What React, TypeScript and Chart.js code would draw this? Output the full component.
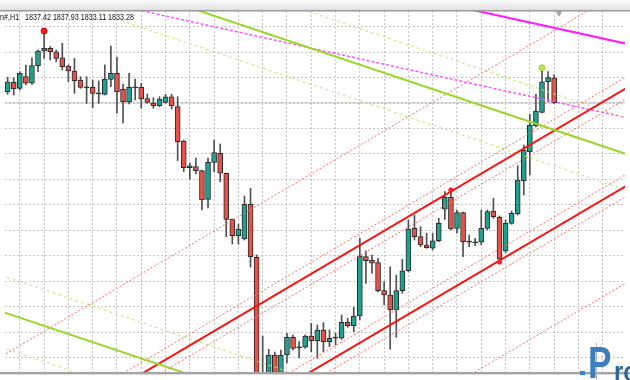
import React, { useEffect, useRef } from 'react';
import { Chart, registerables } from 'chart.js';

Chart.register(...registerables);

// ---- Candle data (H1 bars, oldest -> newest) ----
const OPEN = [
  1835.12, 1836.68, 1835.68, 1837.62, 1836.52, 1839.45, 1841.90, 1842.35, 1841.78, 1840.78,
  1839.40, 1838.57, 1837.07, 1835.85, 1835.85, 1834.85, 1834.68, 1837.18, 1838.18, 1835.52,
  1833.40, 1835.85, 1835.85, 1833.95, 1833.23, 1832.78, 1833.35, 1834.28, 1832.62, 1826.90,
  1822.45, 1822.62, 1821.95, 1817.18, 1823.35, 1824.85, 1821.52, 1813.90, 1811.12, 1810.57,
  1816.35, 1807.52, 1787.57, 1787.07, 1791.23, 1787.40, 1791.23, 1794.18, 1792.52, 1792.52,
  1794.40, 1793.62, 1795.40, 1793.45, 1794.12, 1794.02, 1796.68, 1796.12, 1797.73, 1807.62,
  1807.07, 1806.62, 1801.95, 1801.23, 1798.73, 1801.95, 1805.28, 1812.35, 1810.95, 1809.57,
  1809.02, 1810.28, 1815.52, 1817.52, 1812.35, 1814.95, 1810.12, 1810.02, 1810.02, 1812.35,
  1815.23, 1814.18, 1808.57, 1813.18, 1814.73, 1820.28, 1825.12, 1829.40, 1831.68, 1836.78,
  1837.42,
];
const HIGH = [
  1837.52, 1837.45, 1838.45, 1839.57, 1840.78, 1842.07, 1845.23, 1842.62, 1842.07, 1843.18,
  1839.57, 1840.68, 1837.62, 1837.62, 1837.07, 1836.90, 1839.57, 1842.73, 1840.85, 1836.40,
  1838.18, 1837.23, 1836.52, 1834.73, 1834.12, 1834.28, 1834.68, 1834.68, 1834.28, 1827.07,
  1823.23, 1824.07, 1822.07, 1824.07, 1827.07, 1826.40, 1821.57, 1813.90, 1813.07, 1817.73,
  1819.02, 1807.90, 1794.40, 1792.18, 1791.73, 1792.07, 1794.85, 1794.57, 1793.45, 1794.57,
  1796.52, 1796.23, 1796.62, 1795.40, 1794.85, 1797.90, 1797.35, 1799.18, 1810.68, 1808.57,
  1807.90, 1807.35, 1803.45, 1805.95, 1804.57, 1807.18, 1813.73, 1814.57, 1812.62, 1811.52,
  1811.52, 1814.02, 1818.45, 1818.73, 1815.40, 1815.07, 1811.23, 1810.68, 1815.40, 1815.40,
  1817.35, 1814.40, 1813.73, 1815.23, 1822.78, 1826.23, 1831.35, 1834.68, 1839.12, 1838.45,
  1837.93,
];
const LOW = [
  1834.68, 1834.57, 1835.40, 1836.23, 1836.35, 1838.45, 1840.68, 1840.40, 1840.12, 1838.73,
  1836.78, 1834.85, 1835.68, 1833.18, 1832.45, 1833.18, 1834.57, 1835.95, 1831.52, 1829.90,
  1833.07, 1833.73, 1832.35, 1833.18, 1832.35, 1832.62, 1833.18, 1832.23, 1823.62, 1821.78,
  1820.52, 1821.40, 1815.40, 1815.73, 1821.78, 1820.12, 1810.95, 1809.73, 1809.73, 1810.40,
  1805.90, 1786.23, 1785.40, 1786.57, 1786.73, 1786.90, 1789.90, 1792.07, 1790.73, 1792.35,
  1791.78, 1790.68, 1791.78, 1792.62, 1792.90, 1793.85, 1795.85, 1795.12, 1797.07, 1803.18,
  1804.85, 1801.73, 1799.57, 1792.18, 1794.18, 1801.52, 1805.07, 1810.40, 1809.28, 1809.02,
  1808.73, 1810.12, 1813.85, 1812.07, 1811.52, 1807.62, 1809.28, 1809.45, 1809.57, 1812.07,
  1814.02, 1806.73, 1808.23, 1813.02, 1814.57, 1817.90, 1821.23, 1829.23, 1831.57, 1833.45,
  1833.11,
];
const CLOSE = [
  1836.78, 1835.57, 1838.18, 1836.52, 1839.45, 1841.90, 1842.35, 1841.78, 1840.68, 1839.28,
  1838.57, 1836.95, 1835.85, 1835.85, 1834.85, 1834.85, 1837.23, 1838.18, 1835.07, 1833.40,
  1835.85, 1835.85, 1833.90, 1833.35, 1832.78, 1833.90, 1834.28, 1832.78, 1826.78, 1822.45,
  1822.78, 1821.95, 1817.07, 1823.35, 1824.95, 1821.52, 1813.85, 1811.12, 1812.23, 1816.35,
  1807.62, 1787.07, 1786.90, 1791.23, 1787.40, 1791.23, 1794.18, 1792.35, 1792.52, 1794.40,
  1793.62, 1795.40, 1793.45, 1794.02, 1794.12, 1796.68, 1796.12, 1797.73, 1807.73, 1806.95,
  1806.52, 1801.95, 1801.23, 1798.73, 1801.95, 1805.28, 1812.23, 1810.95, 1809.57, 1809.12,
  1810.28, 1813.18, 1817.52, 1812.23, 1814.95, 1810.12, 1810.12, 1810.02, 1812.35, 1815.12,
  1814.28, 1807.23, 1813.18, 1814.85, 1820.40, 1825.40, 1829.57, 1831.90, 1836.78, 1837.45,
  1833.28,
];

const SYMBOL_LABEL = 'n#,H1';
const LAST_OHLC = '1837.42 1837.93 1833.11 1833.28';
const BID = 1833.28;

// grid levels (bar index / price)
const X_GRID = [2, 6, 10, 14, 18, 22, 26, 30, 34, 38, 42, 46, 50, 54, 58, 62, 66, 70, 74, 78, 82, 86, 90, 94, 98];
const Y_GRID = [1845.95, 1841.71, 1837.46, 1833.22, 1828.98, 1824.74, 1820.49, 1816.25, 1812.01, 1807.77, 1803.52, 1799.28, 1795.04, 1790.80];

// trend lines: [barIndex0, price0, barIndex1, price1]
const RED_SOLID = [
  [-2, 1773.75, 104, 1836.97],
  [-2, 1757.48, 104, 1820.70],
];
const RED_DASHED = [
  [-2, 1790.42, 104, 1853.64],
  [-2, 1775.67, 104, 1838.89],
  [-2, 1772.0, 104, 1835.22],
  [-2, 1759.4, 104, 1822.62],
  [-2, 1755.73, 104, 1818.95],
  [-2, 1741.31, 104, 1804.53],
];
const GREEN_SOLID = [
  [-2, 1859.98, 104, 1824.01],
  [-2, 1798.81, 104, 1762.84],
];
const GREEN_DASHED = [
  [-2, 1865.98, 104, 1830.01],
  [-2, 1853.98, 104, 1818.01],
  [-2, 1804.81, 104, 1768.84],
  [-2, 1792.81, 104, 1756.84],
];
const MAGENTA_SOLID = [[-2, 1866.2, 104, 1842.65]];
const MAGENTA_DASHED = [[-2, 1853.98, 104, 1830.33]];

// markers
const HIGH_MARK = [6];
const HIGH_MARK2 = [88];
const TOUCH_HIGH = [73];
const TOUCH_LOW = [81];

const TEAL = '#22a08e';
const RED = '#e6524a';

function lineDs(seg: number[], color: string, width: number, dash: number[], order: number) {
  return {
    type: 'line' as const,
    data: [
      { x: seg[0], y: seg[1] },
      { x: seg[2], y: seg[3] },
    ],
    borderColor: color,
    borderWidth: width,
    borderDash: dash,
    pointRadius: 0,
    fill: false,
    tension: 0,
    clip: 0,
    order,
  };
}

const decorPlugin = {
  id: 'decor',
  beforeDraw(chart: any) {
    const ctx = chart.ctx;
    const w = chart.width;
    const h = chart.height;
    ctx.save();
    ctx.fillStyle = '#ffffff';
    ctx.fillRect(0, 0, w, h);
    const g = ctx.createLinearGradient(0, 0, 0, 10);
    g.addColorStop(0, '#fbfbfb');
    g.addColorStop(1, '#e2e2e2');
    ctx.fillStyle = g;
    ctx.fillRect(0, 0, w, 10);
    ctx.restore();
  },
  afterDraw(chart: any) {
    const ctx = chart.ctx;
    const w = chart.width;
    ctx.save();
    // top frame line
    ctx.fillStyle = '#9a9a9a';
    ctx.fillRect(0, 10, w, 1.5);
    // bottom frame line
    ctx.fillStyle = '#a4a4a4';
    ctx.fillRect(0, 372, w, 2);
    ctx.fillStyle = '#dcdcdc';
    ctx.fillRect(0, 374, w, 1);

    // header text
    ctx.fillStyle = '#111';
    ctx.font = '9.5px "Liberation Sans", Arial, sans-serif';
    ctx.textBaseline = 'alphabetic';
    const nw = ctx.measureText(LAST_OHLC).width;
    const sx = 109 / nw;
    ctx.save();
    ctx.translate(0, 20);
    ctx.scale(sx, 1);
    ctx.fillText(SYMBOL_LABEL, 0, 0);
    ctx.restore();
    ctx.save();
    ctx.translate(25, 20);
    ctx.scale(sx, 1);
    ctx.fillText(LAST_OHLC, 0, 0);
    ctx.restore();

    // watermark logo
    ctx.fillStyle = '#b8b8b8';
    ctx.fillRect(596, 343, 1, 37);
    ctx.fillStyle = '#3c80bd';
    ctx.fillRect(580, 371, 5, 4);
    ctx.save();
    ctx.translate(588, 378);
    ctx.scale(0.8, 1);
    ctx.font = 'bold 44px "Liberation Sans", Arial, sans-serif';
    ctx.fillText('P', 0, 0);
    ctx.restore();
    ctx.save();
    ctx.fillStyle = '#2b6797';
    ctx.translate(614, 381);
    ctx.scale(0.85, 1);
    ctx.font = 'bold 28px "Liberation Sans", Arial, sans-serif';
    ctx.fillText('ro', 0, 0);
    ctx.restore();
    ctx.restore();
  },
};

export default function App() {
  const ref = useRef<HTMLCanvasElement | null>(null);

  useEffect(() => {
    if (!ref.current) return;
    const idx = OPEN.map((_, i) => i);
    const wicks = idx.map((i) => ({ x: i, y: [LOW[i], HIGH[i]] }));
    const bodies = idx.map((i) => {
      const lo = Math.min(OPEN[i], CLOSE[i]);
      const hi = Math.max(OPEN[i], CLOSE[i]);
      const pad = hi - lo < 0.15 ? 0.09 : 0;
      return { x: i, y: [lo - pad, hi + pad] };
    });
    const bodyColors = idx.map((i) =>
      CLOSE[i] > OPEN[i] + 0.1 ? TEAL : CLOSE[i] < OPEN[i] - 0.1 ? RED : '#333333'
    );

    const datasets: any[] = [];
    datasets.push(lineDs([-2, BID, 104, BID], '#c4c4c4', 1, [], 9));
    datasets.push({
      type: 'bar',
      data: wicks,
      backgroundColor: '#505050',
      borderWidth: 0,
      barThickness: 1,
      grouped: false,
      order: 6,
    });
    datasets.push({
      type: 'bar',
      data: bodies,
      backgroundColor: bodyColors,
      borderColor: '#2a2a2a',
      borderWidth: 1,
      borderSkipped: false,
      barThickness: 5,
      grouped: false,
      order: 5,
    });
    GREEN_DASHED.forEach((s) => datasets.push(lineDs(s, '#bfe86a', 1, [3, 3], 4)));
    MAGENTA_DASHED.forEach((s) => datasets.push(lineDs(s, '#ff55ff', 1.5, [3, 2], 4)));
    RED_DASHED.forEach((s) => datasets.push(lineDs(s, '#ff6a6a', 1, [2, 2], 3)));
    GREEN_SOLID.forEach((s) => datasets.push(lineDs(s, '#9ad62c', 2, [], 2)));
    MAGENTA_SOLID.forEach((s) => datasets.push(lineDs(s, '#ff1cff', 2, [], 2)));
    RED_SOLID.forEach((s) => datasets.push(lineDs(s, '#ff1010', 2, [], 2)));

    const pts = (arr: number[], src: number[]) => arr.map((i) => ({ x: i, y: src[i] }));
    datasets.push({
      type: 'line',
      data: pts(HIGH_MARK, HIGH),
      showLine: false,
      pointRadius: 3,
      pointBackgroundColor: '#ff1a1a',
      pointBorderColor: '#e00000',
      order: 1,
    });
    datasets.push({
      type: 'line',
      data: pts(HIGH_MARK2, HIGH),
      showLine: false,
      pointRadius: 3,
      pointBackgroundColor: '#b6e84a',
      pointBorderColor: '#a0d830',
      order: 1,
    });
    datasets.push({
      type: 'line',
      data: [...pts(TOUCH_HIGH, HIGH), ...pts(TOUCH_LOW, LOW)],
      showLine: false,
      pointRadius: 2.2,
      pointBackgroundColor: '#ff2020',
      pointBorderColor: '#ff2020',
      order: 1,
    });
    datasets.push({
      type: 'line',
      data: [{ x: 90.8, y: 1848.2 }],
      showLine: false,
      pointStyle: 'triangle',
      rotation: 180,
      pointRadius: 3,
      pointBackgroundColor: '#a8a8a8',
      pointBorderColor: '#a8a8a8',
      order: 1,
    });

    const chart = new Chart(ref.current, {
      type: 'bar',
      data: { datasets },
      plugins: [decorPlugin],
      options: {
        animation: false,
        responsive: true,
        maintainAspectRatio: false,
        events: [],
        layout: { padding: { top: 11, bottom: 8, left: 0, right: 0 } },
        plugins: { legend: { display: false }, tooltip: { enabled: false } },
        scales: {
          x: {
            type: 'linear',
            min: -0.4376,
            max: 101.67,
            offset: false,
            grid: { offset: false, color: '#c6c6c6', lineWidth: 1, drawTicks: false },
            border: { display: false, dash: [2, 2] },
            ticks: { display: false },
            afterBuildTicks: (scale: any) => {
              scale.ticks = X_GRID.map((v) => ({ value: v }));
            },
          },
          y: {
            type: 'linear',
            min: 1788.4,
            max: 1848.567,
            grid: { color: '#c6c6c6', lineWidth: 1, drawTicks: false },
            border: { display: false, dash: [2, 2] },
            ticks: { display: false },
            afterBuildTicks: (scale: any) => {
              scale.ticks = Y_GRID.map((v) => ({ value: v }));
            },
          },
        },
      } as any,
    });
    return () => chart.destroy();
  }, []);

  return (
    <div style={{ position: 'fixed', left: 0, top: 0, width: 630, height: 380, background: '#fff' }}>
      <canvas ref={ref} />
    </div>
  );
}
